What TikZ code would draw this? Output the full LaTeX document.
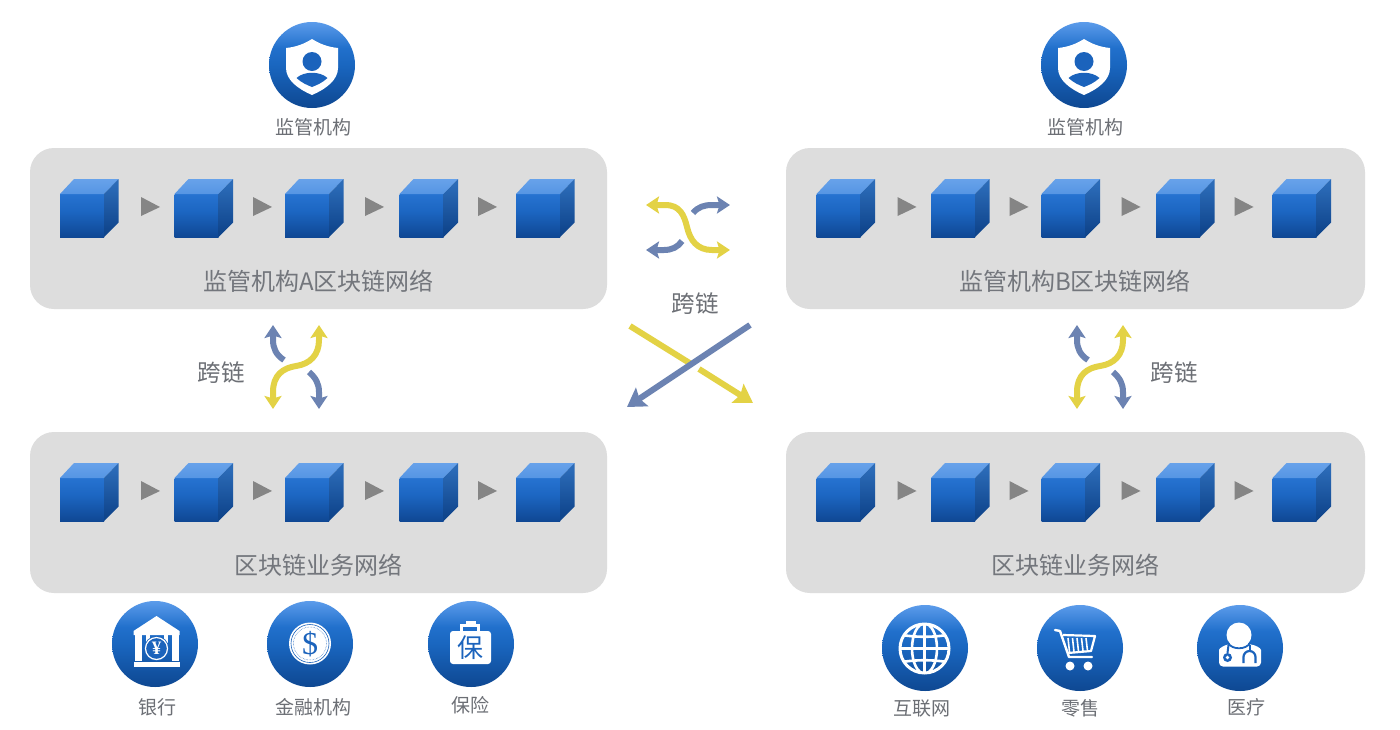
\documentclass[tikz,border=0pt]{standalone}
\usepackage{fontspec}
\setmainfont{Noto Sans CJK SC}
\newfontfamily\iconserif{Liberation Serif}
\usetikzlibrary{arrows.meta,calc}
\definecolor{panelgray}{HTML}{DDDDDD}
\definecolor{txtgray}{HTML}{6C6F75}
\definecolor{titlegray}{HTML}{73767C}
\definecolor{chipgray}{HTML}{858585}
\definecolor{yel}{HTML}{E3D245}
\definecolor{blu}{HTML}{6C83B2}
\definecolor{iconblue}{HTML}{1B63BC}
\pgfdeclareverticalshading{circgb}{100bp}{rgb(0bp)=(0.055,0.28,0.57);rgb(25bp)=(0.055,0.28,0.57);rgb(50bp)=(0.10,0.40,0.75);rgb(60bp)=(0.13,0.44,0.80);rgb(75bp)=(0.36,0.61,0.92);rgb(100bp)=(0.36,0.61,0.92)}
\pgfdeclareverticalshading{frontg}{100bp}{rgb(0bp)=(0.06,0.28,0.58);rgb(25bp)=(0.06,0.28,0.58);rgb(55bp)=(0.11,0.40,0.76);rgb(75bp)=(0.15,0.45,0.82);rgb(100bp)=(0.15,0.45,0.82)}
\pgfdeclareverticalshading{topg}{100bp}{rgb(0bp)=(0.30,0.56,0.88);rgb(100bp)=(0.44,0.66,0.93)}
\pgfdeclareverticalshading{sideg}{100bp}{rgb(0bp)=(0.06,0.27,0.55);rgb(30bp)=(0.06,0.27,0.55);rgb(70bp)=(0.17,0.42,0.72);rgb(100bp)=(0.17,0.42,0.72)}
\tikzset{
  panel/.style={fill=panelgray,rounded corners=24pt,minimum width=577pt,minimum height=161pt,inner sep=0pt},
  paneltitle/.style={text=titlegray,font=\fontsize{24}{24}\selectfont,inner sep=0pt},
  hoplabel/.style={text=txtgray,font=\fontsize{23.5}{23.5}\selectfont,inner sep=0pt},
  iconlabel/.style={text=txtgray,font=\fontsize{19}{19}\selectfont,inner sep=0pt},
  iconcirc/.style={circle,minimum size=86pt,inner sep=0pt,shade,shading=circgb},
  yarrow/.style={draw=yel,line width=6pt,{Stealth[length=13pt,width=17pt,inset=2.5pt]}-{Stealth[length=13pt,width=17pt,inset=2.5pt]}},
  barrow/.style={draw=blu,line width=6pt,-{Stealth[length=13pt,width=17pt,inset=2.5pt]}},
  chip/.style={fill=chipgray},
  iconw/.style={fill=white},
  iconb/.style={fill=iconblue},
}
\newcommand{\mycube}[2]{%
  \begin{scope}[shift={(#1,#2)}]
    \path[shade,shading=frontg] (0,0) rectangle (44,43);
    \path[shade,shading=topg] (0,0) -- (14,-15) -- (58.5,-15) -- (44,0) -- cycle;
    \path[shade,shading=sideg] (44,0) -- (58.5,-15) -- (58.5,28.5) -- (44,43) -- cycle;
  \end{scope}}
\newcommand{\mychain}[2]{%
  \foreach \cx in {0,114.5,225,339.5,456}{\mycube{\cx+#1}{#2}}
  \foreach \ax in {81,193,305,418}{\fill[chip] (\ax+#1,#2+3) -- (\ax+#1+19,#2+13) -- (\ax+#1,#2+22) -- cycle;}}
\begin{document}
\begin{tikzpicture}[x=1pt,y=-1pt]
\useasboundingbox (0,0) rectangle (1400,729);
\fill[white] (0,0) rectangle (1400,729);
% panels
\node[panel] (pa) at (318.5,228.5) {};
\node[panel] (pb) at (318.5,512.5) {};
\node[panel,minimum width=579pt] (pc) at (1075.5,228.5) {};
\node[panel,minimum width=579pt] (pd) at (1075.5,512.5) {};
\mychain{60}{194}
\mychain{60}{478}
\mychain{816.5}{194}
\mychain{816.5}{478}
\node[paneltitle] (ta) at (318.5,281) {监管机构A区块链网络};
\node[paneltitle] (tb) at (318.5,565) {区块链业务网络};
\node[paneltitle] (tc) at (1075,281) {监管机构B区块链网络};
\node[paneltitle] (td) at (1075,565) {区块链业务网络};
% hop labels
\node[hoplabel] (h1) at (221,373) {跨链};
\node[hoplabel] (h2) at (695,304) {跨链};
\node[hoplabel] (h3) at (1174,373) {跨链};
% vertical swaps
\foreach \dx in {0,804}{
\begin{scope}[xshift=\dx pt]
\draw[barrow] (284,360) .. controls (276,355) and (273,348) .. (273,340) -- (273,325);
\draw[barrow] (309,372) .. controls (316,378) and (319,384) .. (319,392) -- (319,409);
\draw[yarrow] (273,409) -- (273,392) .. controls (273,375) and (283,368) .. (296,366) .. controls (310,364) and (319,355) .. (319,340) -- (319,325);
\end{scope}}
% centre swap
\draw[barrow] (693,213) .. controls (698,207) and (704,205) .. (712,205) -- (730,205);
\draw[barrow] (682,241) .. controls (678,247) and (672,250) .. (664,250) -- (646,250);
\draw[yarrow] (646,205) -- (665,205) .. controls (680,205) and (684,215) .. (687,227) .. controls (690,240) and (697,250) .. (712,250) -- (730,250);
% centre cross
\coordinate (ys) at (630,326);
\coordinate (ym) at (690,363.3);
\coordinate (yn) at (699,369);
\coordinate (ye) at (753,403);
\coordinate (bs) at (750,325);
\coordinate (be) at (627,407);
\draw[yel,line width=6pt] (ys) -- (ym);
\draw[yel,line width=6pt,-{Stealth[length=18pt,width=22pt,inset=3pt]}] (yn) -- (ye);
\draw[blu,line width=6pt,-{Stealth[length=18pt,width=22pt,inset=3pt]}] (bs) -- (be);
% ===== icon circles
\node[iconcirc] (i1) at (312,65) {};
\node[iconcirc] (i2) at (1084,65) {};
\node[iconcirc] (i3) at (155,644) {};
\node[iconcirc] (i4) at (310,644) {};
\node[iconcirc] (i5) at (471,644) {};
\node[iconcirc] (i6) at (925,648) {};
\node[iconcirc] (i7) at (1080,648) {};
\node[iconcirc] (i8) at (1240,648) {};
% shields
\foreach \sx in {312,1084}{
\begin{scope}[shift={(\sx,64)}]
\fill[white] (0,-25) .. controls (8,-20) and (16,-17) .. (26,-16) -- (26,4) .. controls (26,16) and (14,25) .. (0,31) .. controls (-14,25) and (-26,16) .. (-26,4) -- (-26,-16) .. controls (-16,-17) and (-8,-20) .. cycle;
\fill[iconb] (0,-2.5) circle (9.5pt);
\fill[iconb] (-15.5,14) .. controls (-8,7) and (8,7) .. (15.5,14) .. controls (10,19) and (5,21) .. (0,23) .. controls (-5,21) and (-10,19) .. cycle;
\end{scope}}
% bank
\begin{scope}[shift={(156.5,644)}]
\fill[white] (0,-28) -- (23,-13) -- (23,-9) -- (-23,-9) -- (-23,-13) -- cycle;
\fill[white] (-22,-9) rectangle (-15,17);
\fill[white] (15,-9) rectangle (22,17);
\fill[white] (-11,-9) rectangle (-7,3);
\fill[white] (7,-9) rectangle (11,3);
\fill[white] (-23,18) rectangle (23,22.5);
\fill[iconb] (0,4.5) circle (12.5pt);
\draw[white,line width=1.2pt] (0,4.5) circle (11pt);
\node[text=white,font=\iconserif\bfseries\fontsize{19}{19}\selectfont,inner sep=0pt] (yen) at (0,4.5) {¥};
\end{scope}
% coin
\begin{scope}[shift={(310,643.5)}]
\fill[white] (0,0) circle (21pt);
\draw[iconblue,line width=0.6pt] (0,0) circle (19pt);
\fill[white] (0,0) circle (17.5pt);
\draw[iconblue,line width=0.5pt,densely dotted] (0,0) circle (16.5pt);
\node[text=iconblue,font=\iconserif\fontsize{32}{32}\selectfont,inner sep=0pt] (dollar) at (0,1) {\$};
\end{scope}
% case
\begin{scope}[shift={(471,644)}]
\fill[white,rounded corners=3pt] (-21,-13) rectangle (20,20);
\fill[white] (-11,-20) rectangle (9,-17);
\fill[white] (-11,-20) rectangle (-8,-13);
\fill[white] (6,-20) rectangle (9,-13);
\fill[white] (-5.5,-23) rectangle (4.5,-20);
\node[text=iconblue,font=\fontsize{26}{26}\selectfont,inner sep=0pt] (bao) at (-0.5,3.5) {保};
\end{scope}
% globe
\begin{scope}[shift={(924.5,648.5)}]
\draw[white,line width=3pt] (0,0) circle (24.5pt);
\begin{scope}
\clip (0,0) circle (25pt);
\draw[white,line width=2.6pt] (0,0) ellipse [x radius=12.5pt,y radius=25pt];
\draw[white,line width=2.6pt] (0,-25) -- (0,25);
\draw[white,line width=2.6pt] (-25,0) -- (25,0);
\draw[white,line width=2.6pt] (-25,-14) .. controls (-10,-11) and (10,-11) .. (25,-14);
\draw[white,line width=2.6pt] (-25,14) .. controls (-10,11) and (10,11) .. (25,14);
\end{scope}
\end{scope}
% cart
\begin{scope}[shift={(1080,648)}]
\draw[white,line width=2.4pt,line cap=round,line join=round] (-25,-18) -- (-20,-17) -- (-11,9) -- (12,9);
\draw[white,line width=2.2pt,line join=round] (-17,-13) -- (15,-12) -- (11,3) -- (-12,5);
\foreach \lx/\ly in {-12/4,-7.5/4,-3/3.5,1.5/3,6/3}{\draw[white,line width=1.6pt] (\lx,-10) -- (\lx+1.5,\ly);}
\fill[white] (-10,18) circle (4.5pt);
\fill[white] (8,18) circle (4.5pt);
\end{scope}
% doctor
\begin{scope}[shift={(1240,648)}]
\fill[white] (-1,-13) circle (12.5pt);
\fill[white,rounded corners=4pt] (-21,18.5) -- (-21,6) .. controls (-21,0) and (-15,-3) .. (-8,-4) -- (7,-4) .. controls (15,-3) and (21,0) .. (21,6) -- (21,18.5) -- cycle;
\draw[iconblue,line width=1.8pt] (-12,-5) .. controls (-8,2) and (6,2) .. (10,-5);
\fill[iconb] (-12.5,9.5) circle (4.5pt);
\fill[white] (-12.5,9.5) circle (1.8pt);
\draw[iconblue,line width=2pt] (-12.5,5) -- (-11.5,-3);
\draw[iconblue,line width=2.2pt] (3.5,15) -- (3.5,9) arc[start angle=180,end angle=0,radius=6pt] -- (15.5,15);
\draw[iconblue,line width=2pt] (9.5,3) -- (9.5,-3);
\end{scope}
% labels
\node[iconlabel] (l1) at (313,127) {监管机构};
\node[iconlabel] (l2) at (1085,127) {监管机构};
\node[iconlabel] (l3) at (157,707) {银行};
\node[iconlabel] (l4) at (313,707) {金融机构};
\node[iconlabel] (l5) at (470,705) {保险};
\node[iconlabel] (l6) at (922,708) {互联网};
\node[iconlabel] (l7) at (1080,708) {零售};
\node[iconlabel] (l8) at (1246,707) {医疗};
\end{tikzpicture}
\end{document}
